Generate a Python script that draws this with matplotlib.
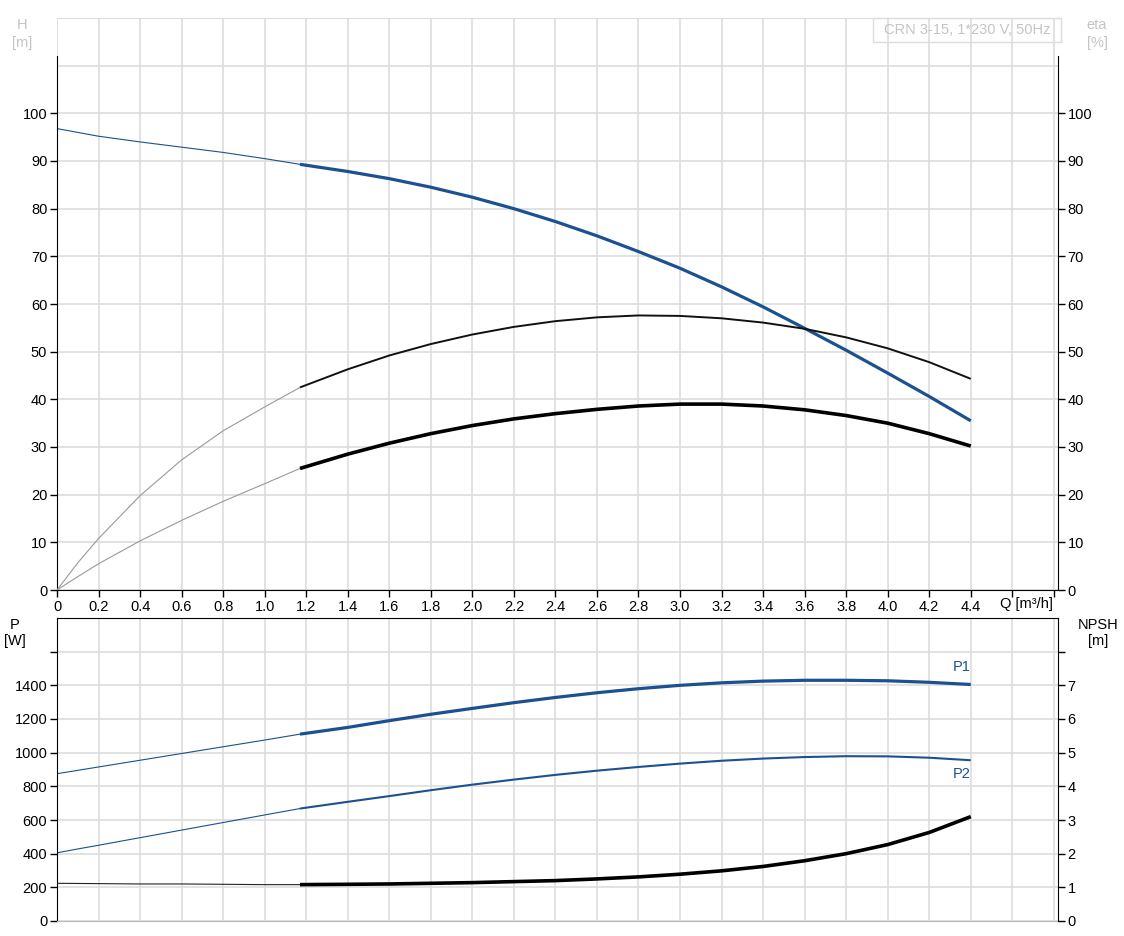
import matplotlib as mp
import matplotlib.pyplot as plt
from matplotlib.patches import Rectangle

# flow points [m3/h]; curve is drawn thin below Q_SPLIT and thick above it
q = [0, 0.1, 0.2, 0.4, 0.6, 0.8, 1.0, 1.17, 1.4, 1.6, 1.8, 2.0, 2.2, 2.4, 2.6,
     2.8, 3.0, 3.2, 3.4, 3.6, 3.8, 4.0, 4.2, 4.4]
Q_SPLIT = 7  # index of 1.17

head = [96.8, 96.0, 95.2, 94.0, 92.9, 91.8, 90.5, 89.3, 87.8, 86.3, 84.5, 82.4,
        80.0, 77.3, 74.3, 71.0, 67.5, 63.6, 59.4, 54.9, 50.3, 45.5, 40.6, 35.5]
eta_pump = [0, 5.7, 10.8, 19.8, 27.3, 33.4, 38.4, 42.5, 46.3, 49.2, 51.6, 53.6,
            55.2, 56.4, 57.2, 57.6, 57.5, 57.0, 56.1, 54.8, 53.0, 50.7, 47.8,
            44.3]
eta_total = [0, 2.8, 5.5, 10.3, 14.6, 18.6, 22.3, 25.5, 28.5, 30.8, 32.8, 34.5,
             35.9, 37.0, 37.9, 38.6, 39.0, 39.0, 38.6, 37.8, 36.6, 35.0, 32.8,
             30.2]
p1 = [875, 895, 915, 955, 995, 1035, 1075, 1110, 1150, 1190, 1228, 1263, 1297,
      1328, 1356, 1380, 1400, 1415, 1425, 1430, 1430, 1427, 1418, 1405]
p2 = [405, 428, 450, 495, 540, 585, 630, 668, 708, 742, 777, 810, 840,
      868, 893, 915, 935, 952, 965, 974, 979, 978, 970, 955]
npsh = [1.12, 1.115, 1.11, 1.10, 1.10, 1.09, 1.08, 1.08, 1.09, 1.10, 1.12,
        1.14, 1.17, 1.20, 1.25, 1.31, 1.39, 1.49, 1.62, 1.79, 2.00, 2.27, 2.63,
        3.10]

x_ticks = [round(0.2 * i, 1) for i in range(25)]
x_labels = ['0'] + ['%.1f' % v for v in x_ticks[1:23]] + ['', '']

mp.rcParams['font.family'] = ['Liberation Sans', 'DejaVu Sans']
mp.rcParams['font.size'] = 10.5

BLUE = '#1b5190'
GRID = '#dddddd'
LIGHT = '#c4c4c4'

fig = plt.figure(figsize=(11.24, 9.36), dpi=100)


def draw(ax, y, thin_color, thick_color, lw):
    ax.plot(q[:Q_SPLIT + 1], y[:Q_SPLIT + 1], color=thin_color, lw=0.8)
    ax.plot(q[Q_SPLIT:], y[Q_SPLIT:], color=thick_color, lw=lw,
            solid_capstyle='butt')


def style(ax, ax2, spine_top):
    ax.set_xlim(0, 4.82)
    ax.set_xticks(x_ticks)
    ax.grid(True, color=GRID, lw=1.2)
    ax.set_axisbelow(True)
    for a in (ax, ax2):
        for s in a.spines.values():
            s.set_visible(False)
    ax.spines['left'].set_visible(True)
    ax.spines['left'].set_bounds(0, spine_top)
    ax2.spines['right'].set_visible(True)
    ax2.spines['right'].set_bounds(0, spine_top)
    ax.tick_params(axis='both', length=5, width=1, colors='black', pad=2)
    ax2.tick_params(axis='y', length=5, width=1, colors='black', pad=2)


# ---------- top: H / eta ----------
ax = fig.add_axes([57 / 1124, 346 / 936, 1001 / 1124, 572 / 936])
ax2 = ax.twinx()
ax.set_ylim(0, 120)
ax2.set_ylim(0, 120)
style(ax, ax2, 112)
ax.spines['bottom'].set_visible(True)
ax.spines['top'].set_visible(True)
ax.spines['top'].set_color(GRID)
ax.set_yticks(range(0, 121, 10))
ax.set_yticklabels([str(v) for v in range(0, 101, 10)] + ['', ''])
ax2.set_yticks(range(0, 101, 10))
ax.set_xticklabels(x_labels)
for t in ax.yaxis.get_major_ticks()[11:]:
    t.tick1line.set_visible(False)

draw(ax, head, BLUE, BLUE, 2.3)
draw(ax2, eta_pump, '#999999', '#111111', 1.4)
draw(ax2, eta_total, '#999999', '#000000', 2.6)

ax.text(4.67, -1.5, 'Q [m³/h]', ha='center', va='top', fontsize=10.5)
fig.text(22 / 1124, 1 - 34 / 936, 'H\n[m]', ha='center', va='center',
         color=LIGHT, fontsize=10.5, linespacing=1.3)
fig.text(1097 / 1124, 1 - 34 / 936, 'eta\n[%]', ha='center', va='center',
         color=LIGHT, fontsize=10.5, linespacing=1.3)
fig.patches.append(Rectangle((873 / 1124, 1 - 42 / 936), 188 / 1124, 24 / 936,
                             transform=fig.transFigure, fill=False,
                             edgecolor='#dcdcdc', lw=1))
fig.text(967 / 1124, 1 - 30 / 936, 'CRN 3-15, 1*230 V, 50Hz', ha='center',
         va='center', color=LIGHT, fontsize=10.5)

# ---------- bottom: P / NPSH ----------
bx = fig.add_axes([57 / 1124, 15 / 936, 1001 / 1124, 303 / 936])
bx2 = bx.twinx()
bx.set_ylim(0, 1800)
bx2.set_ylim(0, 9)
style(bx, bx2, 9)
bx.spines['top'].set_visible(True)
bx.spines['bottom'].set_visible(True)
bx.spines['bottom'].set_color('#bbbbbb')
bx.spines['left'].set_bounds(0, 1800)
bx.set_yticks(range(0, 1601, 200))
bx.set_yticklabels([str(v) for v in range(0, 1401, 200)] + [''])
bx2.set_yticks(range(0, 9))
bx2.set_yticklabels([str(v) for v in range(0, 8)] + [''])
bx.tick_params(axis='x', length=0, labelbottom=False)

draw(bx, p1, BLUE, BLUE, 2.3)
draw(bx, p2, BLUE, BLUE, 1.5)
draw(bx2, npsh, '#222222', '#000000', 2.6)

bx.text(4.4, 1465, 'P1', ha='right', va='bottom', color=BLUE, fontsize=10.5)
bx.text(4.4, 915, 'P2', ha='right', va='top', color=BLUE, fontsize=10.5)
fig.text(15 / 1124, 1 - 633 / 936, 'P\n[W]', ha='center', va='center',
         fontsize=10.5, linespacing=1.1)
fig.text(1098 / 1124, 1 - 633 / 936, 'NPSH\n[m]', ha='center', va='center',
         fontsize=10.5, linespacing=1.1)

fig.savefig('out.png', dpi=100, facecolor='white')
